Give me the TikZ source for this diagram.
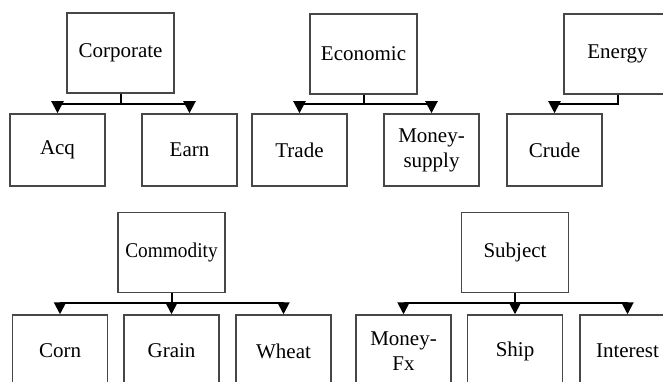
\documentclass[tikz,border=0pt]{standalone}
\usepackage{fontspec}
\setmainfont{Liberation Serif}
\usetikzlibrary{arrows.meta}
\begin{document}
\begin{tikzpicture}[x=1pt,y=-1pt,
  catbox/.style={draw=black!72, line width=1.5pt, minimum width=107pt, minimum height=80pt, inner sep=0pt, align=center, font=\fontsize{21}{25}\selectfont},
  leafbox/.style={draw=black!72, line width=1.5pt, minimum width=95pt, minimum height=72pt, inner sep=0pt, align=center, font=\fontsize{21}{25}\selectfont},
  conn/.style={draw=black, line width=2pt, -{Triangle[length=12pt,width=12pt]}}]
\useasboundingbox (0,0) rectangle (663,382);
\clip (0,0) rectangle (663,382);
% top row categories
\node[catbox] (corp) at (120.5,53) {Corporate};
\node[catbox] (econ) at (363.5,54) {Economic};
\node[catbox] (ener) at (617.5,54) {Energy};
\node[leafbox] (acq) at (57.5,150) {Acq};
\node[leafbox] (earn) at (189.5,150) {Earn};
\node[leafbox] (trade) at (299.5,150) {Trade};
\node[leafbox] (msup) at (431.5,150) {Money-\\supply};
\node[leafbox] (crude) at (554.5,150) {Crude};
% bottom row categories
\node[catbox] (comm) at (171.5,252.5) {\scalebox{0.92}[1]{Commodity}};
\node[catbox] (subj) at (515,252.5) {Subject};
\node[leafbox] (corn) at (60,351) {Corn};
\node[leafbox] (grain) at (171.5,351) {Grain};
\node[leafbox] (wheat) at (283.5,351) {Wheat};
\node[leafbox] (mfx) at (403.5,351) {Money-\\Fx};
\node[leafbox] (ship) at (515,351) {Ship};
\node[leafbox] (inter) at (627.5,351) {Interest};
% connectors
\draw[conn] (corp.south) -- ++(0,10) -| (acq.north);
\draw[conn] (corp.south) -- ++(0,10) -| (earn.north);
\draw[conn] (econ.south) -- ++(0,9) -| (trade.north);
\draw[conn] (econ.south) -- ++(0,9) -| (msup.north);
\draw[conn] (ener.south) -- ++(0,9) -| (crude.north);
\draw[conn] (comm.south) -- ++(0,10) -| (corn.north);
\draw[conn] (comm.south) -- (grain.north);
\draw[conn] (comm.south) -- ++(0,10) -| (wheat.north);
\draw[conn] (subj.south) -- ++(0,10) -| (mfx.north);
\draw[conn] (subj.south) -- (ship.north);
\draw[conn] (subj.south) -- ++(0,10) -| (inter.north);
\end{tikzpicture}
\end{document}
